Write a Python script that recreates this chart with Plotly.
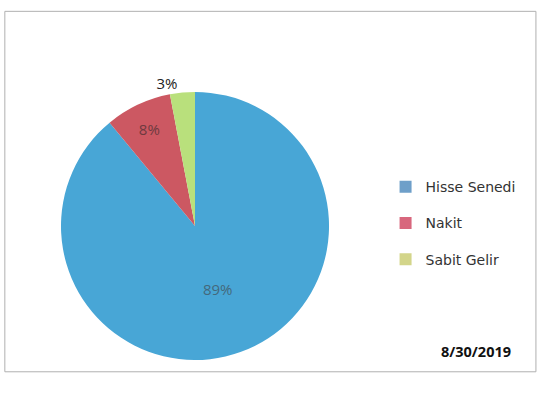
import plotly.graph_objects as go

categories = ["Hisse Senedi", "Nakit", "Sabit Gelir"]
values = [89, 8, 3]
pie_colors = ["#48A6D6", "#CC5862", "#B9E07C"]
legend_colors = ["#6E9FC9", "#D8677D", "#D3D58A"]
label_colors = ["#44697C", "#6E3A40", "#222222"]
text_positions = ["inside", "inside", "outside"]
date_label = "8/30/2019"

fig = go.Figure()
fig.add_trace(go.Pie(
    labels=categories,
    values=values,
    sort=False,
    direction="clockwise",
    rotation=0,
    marker=dict(colors=pie_colors, line=dict(width=0)),
    texttemplate="%{percent:.0%}",
    textposition=text_positions,
    textfont=dict(family="Open Sans", size=15, color=label_colors),
    insidetextorientation="horizontal",
    showlegend=False,
    hoverinfo="label+percent",
    domain=dict(x=[0.1136, 0.6127], y=[0.111, 0.773]),
))

for name, col in zip(categories, legend_colors):
    fig.add_trace(go.Scatter(
        x=[None], y=[None], mode="markers", name=name, legendgroup=name,
        marker=dict(symbol="square", size=8, color=col),
    ))

fig.add_annotation(
    text="<b>" + date_label + "</b>", xref="paper", yref="paper",
    x=0.955, y=0.131, xanchor="right", yanchor="middle", showarrow=False,
    font=dict(family="Open Sans", size=14.5, color="#111111"),
)

fig.add_shape(type="rect", xref="paper", yref="paper",
              x0=0.009, y0=0.082, x1=0.998, y1=0.972,
              line=dict(color="#B0B0B0", width=1))

fig.update_layout(
    width=537, height=405,
    margin=dict(l=0, r=0, t=0, b=0),
    paper_bgcolor="white", plot_bgcolor="white",
    xaxis=dict(visible=False), yaxis=dict(visible=False),
    legend=dict(x=0.718, y=0.449, xanchor="left", yanchor="middle",
                tracegroupgap=15, itemsizing="constant",
                font=dict(family="DejaVu Sans", size=14, color="#333333"),
                bgcolor="rgba(0,0,0,0)"),
)

fig.write_html("out.html", config={"displayModeBar": False},
               post_script="document.body.style.margin='0';")
